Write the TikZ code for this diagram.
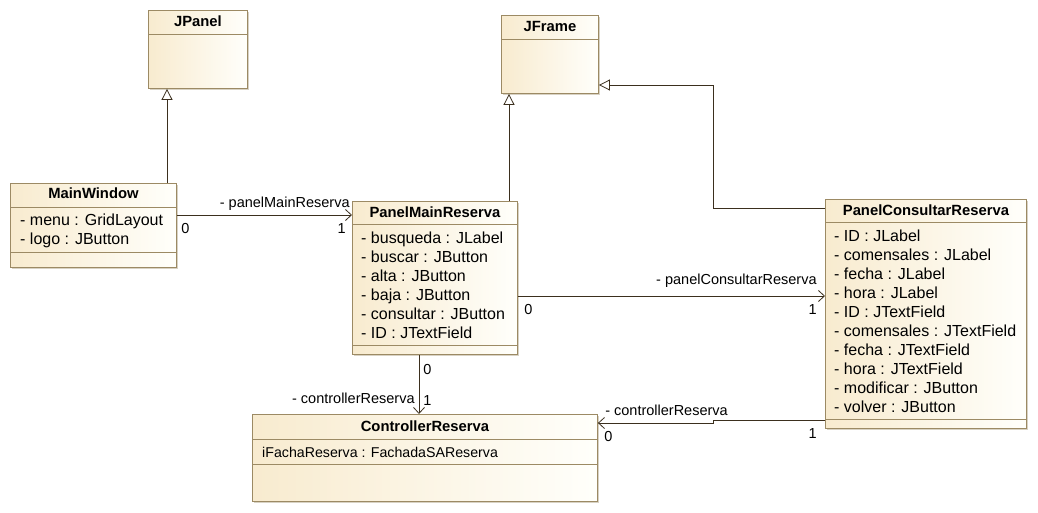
\documentclass[tikz,border=0pt]{standalone}
\usepackage{fontspec}
\setmainfont{Liberation Sans}
\usepackage{tikz}
\usetikzlibrary{arrows.meta,positioning,calc,shadows}

\definecolor{umlborder}{HTML}{9C8A64}
\definecolor{umlfill}{HTML}{F8EBCF}
\definecolor{umlwhite}{HTML}{FFFFFB}
\definecolor{umlline}{HTML}{3B2F1E}
\definecolor{umlshadow}{HTML}{D8D2C4}

\tikzset{
	umlclass/.style={draw=umlborder,line width=0.9pt,left color=umlfill,right color=umlwhite,anchor=north west,inner sep=0pt,
		drop shadow={shadow xshift=2pt,shadow yshift=-2pt,fill=umlshadow,opacity=1}},
	umltitle/.style={anchor=base,inner sep=0pt,font=\bfseries\fontsize{14.8}{17}\selectfont},
	umlattr/.style={anchor=base west,inner sep=0pt,align=left,font=\fontsize{16}{19}\selectfont},
	umldiv/.style={draw=umlborder,line width=0.9pt},
	assoc/.style={draw=umlline,line width=0.8pt,-{Straight Barb[length=6pt,width=11pt]}},
	gen/.style={draw=umlline,line width=0.8pt,-{Triangle[open,length=11pt,width=11pt]}},
	role/.style={inner sep=2pt,font=\fontsize{14.5}{16}\selectfont},
	mult/.style={role,yshift=-6pt}
}

\begin{document}
\begin{tikzpicture}[x=1pt,y=-1pt]
	\useasboundingbox (0,0) rectangle (1038,513);
	\fill[white] (0,0) rectangle (1038,513);

	% classes
	\node[umlclass,minimum width=99pt,minimum height=78pt] (jpanel) at (148,10) {};
	\node[umlclass,minimum width=97pt,minimum height=78pt] (jframe) at (501,15) {};
	\node[umlclass,minimum width=166pt,minimum height=84pt] (mainwin) at (10,183) {};
	\node[umlclass,minimum width=165pt,minimum height=153pt] (pmain) at (352,201) {};
	\node[umlclass,minimum width=201pt,minimum height=229pt] (pcons) at (825,199) {};
	\node[umlclass,minimum width=345pt,minimum height=87pt] (ctrl) at (252,414) {};

	% titles
	\node[umltitle] (jpanel-t) at ([yshift=-17pt]jpanel.north) {JPanel};
	\node[umltitle] (jframe-t) at ([yshift=-17pt]jframe.north) {JFrame};
	\node[umltitle] (mainwin-t) at ([yshift=-16pt]mainwin.north) {MainWindow};
	\node[umltitle] (pmain-t) at ([yshift=-16pt]pmain.north) {PanelMainReserva};
	\node[umltitle] (pcons-t) at ([yshift=-16pt]pcons.north) {PanelConsultarReserva};
	\node[umltitle] (ctrl-t) at ([yshift=-17pt]ctrl.north) {ControllerReserva};

	% compartments
	\foreach \n/\d in {jpanel/24,jframe/24,mainwin/24,mainwin/69,pmain/23,pmain/144,pcons/23,pcons/220,ctrl/25,ctrl/50}
		\draw[umldiv] ([yshift=-\d pt]\n.north west) -- ([yshift=-\d pt]\n.north east);

	% attributes (base = last line)
	\node[umlattr] (mainwin-a) at ([xshift=10pt,yshift=-61pt]mainwin.north west) {- menu : GridLayout\\- logo : JButton};
	\node[umlattr] (pmain-a) at ([xshift=9pt,yshift=-137pt]pmain.north west) {- busqueda : JLabel\\- buscar : JButton\\- alta : JButton\\- baja : JButton\\- consultar : JButton\\- ID : JTextField};
	\node[umlattr] (pcons-a) at ([xshift=9pt,yshift=-213pt]pcons.north west) {- ID : JLabel\\- comensales : JLabel\\- fecha : JLabel\\- hora : JLabel\\- ID : JTextField\\- comensales : JTextField\\- fecha : JTextField\\- hora : JTextField\\- modificar : JButton\\- volver : JButton};
	\node[umlattr,font=\fontsize{14.2}{17}\selectfont] (ctrl-a) at ([xshift=10pt,yshift=-43pt]ctrl.north west) {iFachaReserva : FachadaSAReserva};

	% generalizations
	\coordinate (g1) at ([xshift=157pt]mainwin.north west);
	\coordinate (g2) at ([xshift=157pt]pmain.north west);
	\coordinate (g3s) at ([yshift=-9pt]pcons.north west);
	\coordinate (g3e) at ([yshift=-70pt]jframe.north east);
	\coordinate (bend) at ([xshift=114pt]jframe.east);
	\draw[gen] (g1) -- (g1 |- jpanel.south);
	\draw[gen] (g2) -- (g2 |- jframe.south);
	\draw[gen] (g3s) -- (g3s -| bend) |- (g3e);

	% associations
	\coordinate (a1) at ([yshift=-32pt]mainwin.north east);
	\coordinate (a2) at ([yshift=-95pt]pmain.north east);
	\coordinate (a3) at ([xshift=67pt]pmain.south west);
	\coordinate (a4s) at ([yshift=-221pt]pcons.north west);
	\coordinate (a4e) at ([yshift=-9pt]ctrl.north east);
	\draw[assoc] (a1) -- (a1 -| pmain.west)
		node[role,pos=1,above left,yshift=2pt] {- panelMainReserva}
		node[mult,pos=0,below right,xshift=2pt] {0}
		node[mult,pos=1,below left,xshift=-4pt] {1};
	\draw[assoc] (a2) -- (a2 -| pcons.west)
		node[role,pos=1,above left,xshift=-6pt,yshift=6pt] {- panelConsultarReserva}
		node[mult,pos=0,below right,xshift=4pt] {0}
		node[mult,pos=1,below left,xshift=-6pt] {1};
	\draw[assoc] (a3) -- (a3 |- ctrl.north)
		node[mult,pos=0,below right,xshift=2pt,yshift=-1pt] {0}
		node[role,pos=1,above right,xshift=2pt,yshift=6pt] {1}
		node[role,pos=1,above left,xshift=-2pt,yshift=8pt] {- controllerReserva};
	\draw[assoc] (a4s) -- (a4s -| bend) -- (bend |- a4e) -- (a4e)
		node[role,pos=1,above right,xshift=5pt,yshift=5pt] {- controllerReserva}
		node[mult,pos=1,below right,xshift=4pt] {0};
	\node[mult,below left,xshift=-6pt] (a4s-m) at (a4s) {1};
\end{tikzpicture}
\end{document}
